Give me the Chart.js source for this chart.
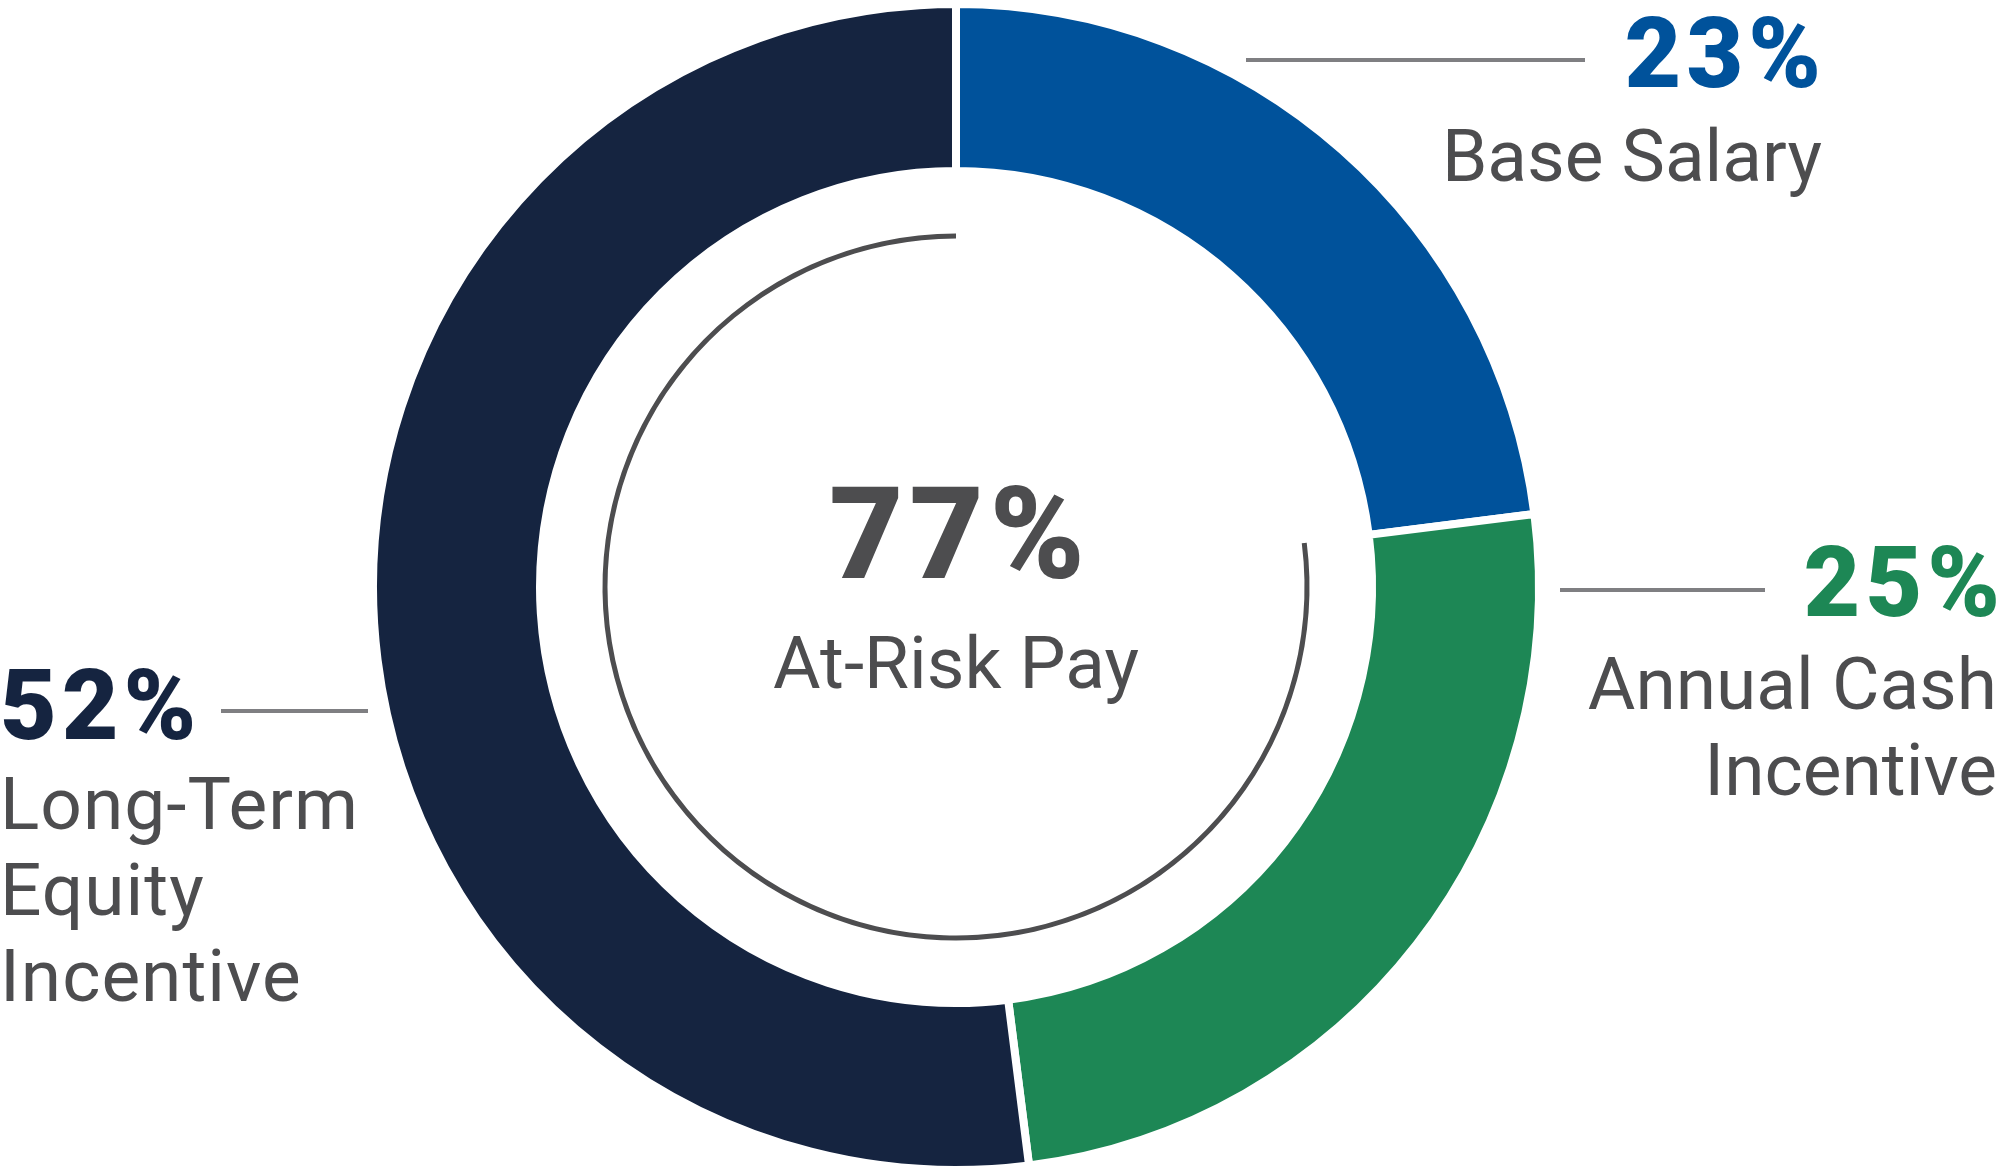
<!DOCTYPE html>
<html>
<head>
<meta charset="utf-8">
<script src="https://cdn.jsdelivr.net/npm/chart.js@4.4.0/dist/chart.umd.min.js"></script>
<style>
  html, body { margin: 0; padding: 0; background: #fff; }
  #wrap { position: relative; width: 2004px; height: 1174px; overflow: hidden; font-family: Roboto, "Open Sans", sans-serif; }
  #wrap canvas { position: absolute; left: 0; top: 0; }
  .lbl { position: absolute; white-space: nowrap; }
  .rule { position: absolute; height: 4px; background: #7f7f82; }
</style>
</head>
<body>
<div id="wrap">
  <canvas id="pay" width="2004" height="1174"></canvas>
</div>
<script>
const categories = ['Base Salary', 'Annual Cash Incentive', 'Long-Term Equity Incentive'];
const shares = [23, 25, 52];
const labelLines = [['Base Salary'], ['Annual Cash', 'Incentive'], ['Long-Term', 'Equity', 'Incentive']];
const centerLabel = 'At-Risk Pay';

const colors = ['#00529b', '#1d8755', '#152440'];
const textGray = '#4d4d4f';

const atRisk = shares[1] + shares[2];

new Chart(document.getElementById('pay'), {
  type: 'doughnut',
  data: {
    labels: categories,
    datasets: [
      {
        data: shares,
        backgroundColor: colors,
        borderColor: '#fff',
        borderWidth: 8,
        hoverBorderWidth: 8,
        hoverOffset: 0,
        weight: 167
      },
      {
        // empty ring between the donut and the at-risk arc
        data: [1],
        backgroundColor: 'rgba(0,0,0,0)',
        borderWidth: 0,
        hoverBorderWidth: 0,
        hoverOffset: 0,
        weight: 62.5
      },
      {
        data: [shares[0], atRisk],
        backgroundColor: ['rgba(0,0,0,0)', textGray],
        borderWidth: 0,
        hoverBorderWidth: 0,
        hoverOffset: 0,
        weight: 5
      }
    ]
  },
  options: {
    responsive: false,
    animation: false,
    events: [],
    cutout: '59.78%',
    layout: { padding: { left: 0, right: 92, top: 0, bottom: 0 } },
    plugins: {
      legend: { display: false },
      tooltip: { enabled: false }
    }
  }
});

const wrap = document.getElementById('wrap');

// put a text block so that its first baseline sits at y
function addText(lines, o) {
  const el = document.createElement('div');
  el.className = 'lbl';
  const lh = o.lh || o.size;
  const ls = o.ls || 0;
  el.style.fontSize = o.size + 'px';
  el.style.lineHeight = lh + 'px';
  el.style.fontWeight = o.weight || 400;
  el.style.letterSpacing = ls + 'px';
  el.style.color = o.color;
  el.style.textAlign = o.align;
  const firstBase = (lh - 1.172 * o.size) / 2 + 0.928 * o.size;
  el.style.top = (o.baseline - firstBase) + 'px';
  if (o.align === 'right') el.style.right = (2004 - o.x - ls) + 'px';
  else if (o.align === 'left') el.style.left = o.x + 'px';
  else { el.style.left = (o.x + ls / 2) + 'px'; el.style.transform = 'translateX(-50%)'; }
  lines.forEach((t, i) => {
    if (i) el.appendChild(document.createElement('br'));
    el.appendChild(document.createTextNode(t));
  });
  wrap.appendChild(el);
}

function addRule(x1, x2, y) {
  const r = document.createElement('div');
  r.className = 'rule';
  r.style.left = x1 + 'px';
  r.style.width = (x2 - x1) + 'px';
  r.style.top = (y - 2) + 'px';
  wrap.appendChild(r);
}

const pctStyle = { size: 98, weight: 900, ls: 5 };
const nameStyle = { size: 73, lh: 86, color: textGray };

// base salary
addText([shares[0] + '%'], { ...pctStyle, color: colors[0], align: 'right', x: 1821, baseline: 88 });
addText(labelLines[0], { ...nameStyle, align: 'right', x: 1822, baseline: 181 });
addRule(1246, 1585, 60);

// annual cash incentive
addText([shares[1] + '%'], { ...pctStyle, color: colors[1], align: 'right', x: 2000, baseline: 617 });
addText(labelLines[1], { ...nameStyle, align: 'right', x: 1997, baseline: 709 });
addRule(1560, 1765, 590);

// long-term equity incentive
addText([shares[2] + '%'], { ...pctStyle, color: colors[2], align: 'left', x: 0, baseline: 740 });
addText(labelLines[2], { ...nameStyle, ls: 1, align: 'left', x: 0, baseline: 829 });
addRule(221, 368, 711);

// centre
addText([atRisk + '%'], { size: 128, weight: 900, ls: 6, color: textGray, align: 'center', x: 957, baseline: 578 });
addText([centerLabel], { size: 73, color: textGray, align: 'center', x: 956, baseline: 688 });
</script>
</body>
</html>
